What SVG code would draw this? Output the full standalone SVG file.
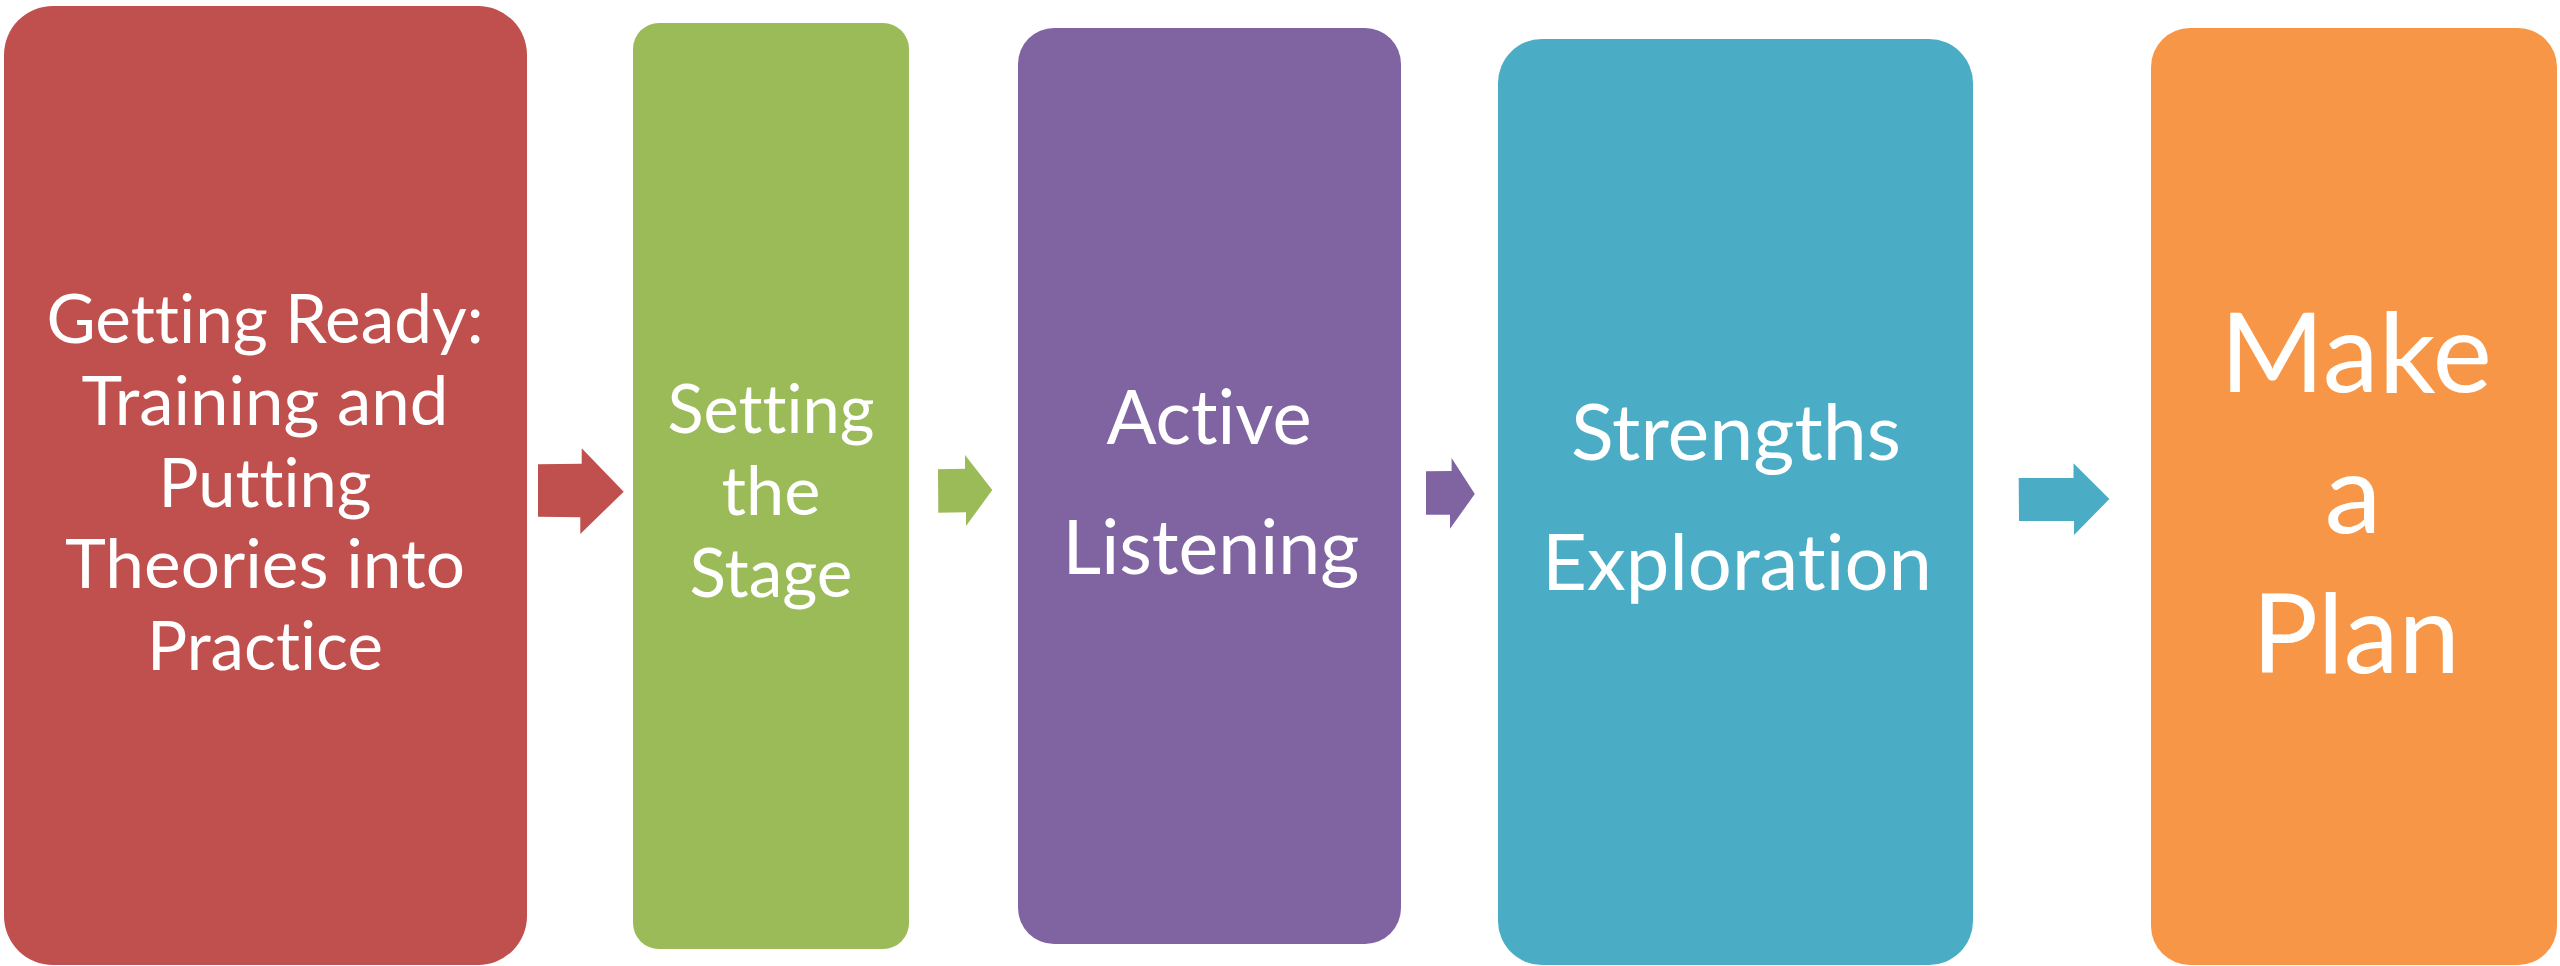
<svg xmlns="http://www.w3.org/2000/svg" width="2560" height="966" viewBox="0 0 2560 966">
<style>
.lbl{font-family:Lato,"Open Sans","Liberation Sans",sans-serif;fill:#FFFFFF;text-anchor:middle;font-variant-ligatures:none;font-feature-settings:"liga" 0,"clig" 0;}
.f72{font-size:67px;}
.f81{font-size:75px;}
.f80{font-size:78px;}
.f119{font-size:110px;}
</style>
<rect width="2560" height="966" fill="#FFFFFF"/>
<g id="connectors">
<polygon fill="#C0504D" points="538,464.3 581.7,463.7 581.7,448.3 623.7,491.7 580.3,534 580.3,517.3 538,516.7"/>
<polygon fill="#9BBB59" points="938,469.3 965,468.7 965,455 992.3,490 966,526 966,512.3 938.3,512.7"/>
<polygon fill="#8064A2" points="1426,471.3 1451.6,471 1451.6,458 1474.8,494 1450,528.7 1450,514.7 1426,514.7"/>
<polygon fill="#4BACC6" points="2018.7,478 2073.5,478 2073.5,463.3 2109.4,499 2074,535 2074,521 2019,521"/>
</g>
<g id="node-getting-ready">
<rect x="4" y="6" width="523" height="959" rx="49" ry="49" fill="#C0504D"/>
<text class="lbl f72" x="265" y="343" textLength="437" lengthAdjust="spacingAndGlyphs">Getting Ready:</text>
<text class="lbl f72" x="265" y="425" textLength="367" lengthAdjust="spacingAndGlyphs">Training and</text>
<text class="lbl f72" x="265" y="507" textLength="213" lengthAdjust="spacingAndGlyphs">Putting</text>
<text class="lbl f72" x="265" y="588" textLength="400" lengthAdjust="spacingAndGlyphs">Theories into</text>
<text class="lbl f72" x="265" y="670" textLength="236" lengthAdjust="spacingAndGlyphs">Practice</text>
</g>
<g id="node-setting-stage">
<rect x="633" y="23" width="276" height="926" rx="26" ry="26" fill="#9BBB59"/>
<text class="lbl f72" x="771" y="433" textLength="207" lengthAdjust="spacingAndGlyphs">Setting</text>
<text class="lbl f72" x="771" y="515" textLength="99" lengthAdjust="spacingAndGlyphs">the</text>
<text class="lbl f72" x="771" y="597" textLength="163" lengthAdjust="spacingAndGlyphs">Stage</text>
</g>
<g id="node-active-listening">
<rect x="1018" y="28" width="383" height="916" rx="36" ry="36" fill="#8064A2"/>
<text class="lbl f81" x="1209" y="444" textLength="205" lengthAdjust="spacingAndGlyphs">Active</text>
<text class="lbl f81" x="1211" y="574" textLength="297" lengthAdjust="spacingAndGlyphs">Listening</text>
</g>
<g id="node-strengths">
<rect x="1498" y="39" width="475" height="926" rx="44" ry="44" fill="#4BACC6"/>
<text class="lbl f80" x="1736" y="460" textLength="330" lengthAdjust="spacingAndGlyphs">Strengths</text>
<text class="lbl f80" x="1737" y="590" textLength="390" lengthAdjust="spacingAndGlyphs">Exploration</text>
</g>
<g id="node-make-plan">
<rect x="2151" y="28" width="406" height="937" rx="39" ry="39" fill="#F79646"/>
<text class="lbl f119" x="2356" y="392" textLength="272" lengthAdjust="spacingAndGlyphs">Make</text>
<text class="lbl f119" x="2353" y="533" textLength="57" lengthAdjust="spacingAndGlyphs">a</text>
<text class="lbl f119" x="2356" y="673" textLength="208" lengthAdjust="spacingAndGlyphs">Plan</text>
</g>
</svg>
